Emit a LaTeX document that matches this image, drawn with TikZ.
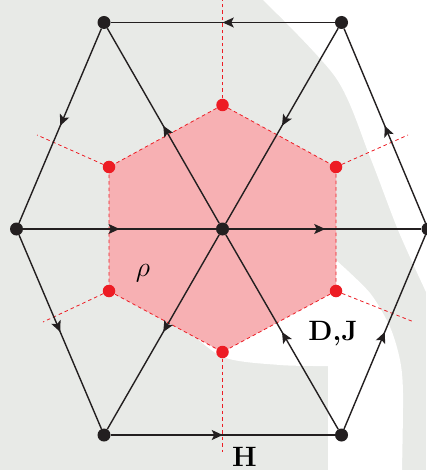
\documentclass[tikz,border=0pt]{standalone}
\usetikzlibrary{arrows.meta,decorations.markings}
\definecolor{bggray}{RGB}{232,234,231}
\definecolor{hexpink}{RGB}{247,176,179}
\definecolor{dotred}{RGB}{237,28,36}
\definecolor{ink}{RGB}{35,31,32}
\begin{document}
\begin{tikzpicture}[x=1pt,y=-1pt,
  bdot/.style={circle,fill=ink,inner sep=0pt,minimum size=13pt},
  rdot/.style={circle,fill=dotred,inner sep=0pt,minimum size=12.5pt},
  edge/.style={draw=ink,line width=1.4pt,postaction={decorate},
    decoration={markings,mark=at position 0.5 with {\arrow{Stealth[length=11pt,width=10pt,inset=2.5pt]}}}},
  rline/.style={draw=dotred,line width=0.8pt,dash pattern=on 3.5pt off 3pt},
  lab/.style={font=\fontsize{28}{30}\selectfont,inner sep=0pt}]
\useasboundingbox (0,0) rectangle (426,470);
% background watermark
\fill[bggray] (0,0) rectangle (426,470);
\fill[white] plot[smooth] coordinates {(263,0) (336,78) (370,157) (398,230) (426,292)} -- (426,0) -- cycle;
\fill[white] plot[smooth] coordinates {(136,304) (180,325) (223,357) (280,365) (328,366)}
  -- (328,470) -- (402,470)
  -- plot[smooth] coordinates {(402,470) (403,393) (400,360) (390,327) (370,293) (337,261)}
  -- (230,300) -- cycle;
% red hexagon coordinates
\coordinate (p1) at (222.5,105);
\coordinate (p2) at (336,167);
\coordinate (p3) at (336,291);
\coordinate (p4) at (222.5,352);
\coordinate (p5) at (109,291);
\coordinate (p6) at (109,167);
\coordinate (q1) at (222.5,0);
\coordinate (q2) at (408,135);
\coordinate (q3) at (414,322);
\coordinate (q4) at (222.5,452);
\coordinate (q5) at (43,322);
\coordinate (q6) at (37,135);
\fill[hexpink] (p1) -- (p2) -- (p3) -- (p4) -- (p5) -- (p6) -- cycle;
\draw[rline] (p1) -- (p2) -- (p3) -- (p4) -- (p5) -- (p6) -- cycle;
\foreach \i in {1,...,6} \draw[rline] (p\i) -- (q\i);
% black nodes
\node[bdot] (A) at (104,22.5) {};
\node[bdot] (B) at (341.5,22.5) {};
\node[bdot] (C) at (16.5,229) {};
\node[bdot] (O) at (222.5,229) {};
\node[bdot] (D) at (428,229) {};
\node[bdot] (E) at (104,435) {};
\node[bdot] (F) at (341.5,435) {};
% edges
\draw[edge] (B) -- (A);
\draw[edge] (A) -- (C);
\draw[edge] (O) -- (A);
\draw[edge] (B) -- (O);
\draw[edge] (D) -- (B);
\draw[edge] (C) -- (O);
\draw[edge] (O) -- (D);
\draw[edge] (C) -- (E);
\draw[edge] (O) -- (E);
\draw[edge] (F) -- (O);
\draw[edge] (F) -- (D);
\draw[edge] (E) -- (F);
% red dots
\foreach \i in {1,...,6} \node[rdot] (r\i) at (p\i) {};
% labels
\node[lab,scale=1.125] (rho) at (143,273) {$\rho$};
\node[lab,anchor=base] (DJ) at (333,340) {\textbf{D,J}};
\node[lab,anchor=base] (Hl) at (244.5,466) {\textbf{H}};
\end{tikzpicture}
\end{document}
